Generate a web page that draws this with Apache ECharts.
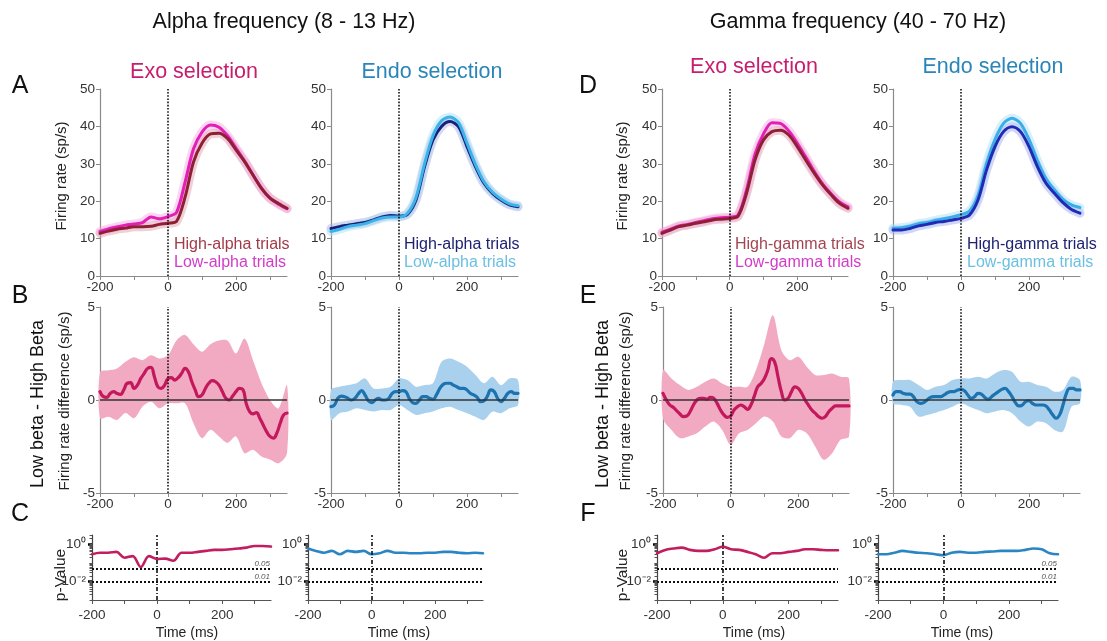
<!DOCTYPE html>
<html><head><meta charset="utf-8">
<script src="https://cdn.jsdelivr.net/npm/echarts@6/dist/echarts.min.js"></script>
<style>html,body{margin:0;padding:0;background:#fff}#c{width:1107px;height:641px}</style>
</head><body><div id="c"></div>
<script>
// ---------- DATA ----------
const T25 = [-200,-175,-150,-125,-100,-75,-50,-25,0,25,50,75,100,125,150,175,200,225,250,275,300,325,350];
const T10 = [-200,-190,-180,-170,-160,-150,-140,-130,-120,-110,-100,-90,-80,-70,-60,-50,-40,-30,-20,-10,0,10,20,30,40,50,60,70,80,90,100,110,120,130,140,150,160,170,180,190,200,210,220,230,240,250,260,270,280,290,300,310,320,330,340,350];
const xTicks = [-200,-100,0,100,200,300];
const xLabels = [-200,0,200];

// A: alpha, firing rate (sp/s)
const alphaExoHigh  = [11.4,12.0,12.5,12.8,13.2,13.2,13.3,13.8,14.1,14.6,21.0,30.5,35.5,38.0,38.2,36.8,33.7,30.6,27.0,23.4,20.8,19.4,18.1];
const alphaExoLow   = [11.9,12.6,13.1,13.6,13.9,14.3,15.8,15.3,15.9,17.0,25.0,34.0,38.5,40.4,39.8,37.5,34.2,30.8,27.0,23.5,20.8,19.2,18.0];
const alphaEndoHigh = [12.7,13.2,13.6,14.0,14.3,15.0,15.8,16.2,16.0,16.5,20.3,29.2,36.4,40.0,41.3,39.9,34.6,29.2,24.8,22.1,20.3,19.0,18.5];
const alphaEndoLow  = [11.9,12.5,13.2,13.6,14.0,14.8,15.5,15.8,15.8,16.8,21.0,30.0,37.5,41.5,42.5,41.0,35.5,29.8,25.2,22.4,20.6,19.3,18.8];
// D: gamma
const gammaExoHigh  = [11.4,12.3,13.2,13.6,14.1,14.5,15.0,15.2,15.4,16.0,22.1,31.0,36.4,38.6,39.0,37.7,34.6,31.0,27.5,24.3,21.7,19.4,18.1];
const gammaExoLow   = [11.7,12.5,13.4,13.8,14.3,14.8,15.3,15.6,15.7,16.3,23.0,32.5,38.0,41.0,40.8,38.8,35.5,31.8,28.0,24.6,22.0,19.8,18.5];
const gammaEndoHigh = [12.3,12.3,12.7,13.4,13.8,14.3,14.6,15.0,15.4,16.3,20.3,28.3,34.6,38.6,39.9,38.6,34.6,29.2,24.8,22.1,19.6,17.8,16.8];
const gammaEndoLow  = [12.8,12.9,13.3,14.0,14.3,14.9,15.3,15.8,16.4,17.3,21.5,30.0,36.5,40.8,42.2,40.8,36.5,30.8,26.0,23.0,20.5,19.0,18.3];

// B / E: firing rate difference (sp/s), mean on T10, band on T25
const diffAlphaExo  = [0.45,0.18,0.14,0.35,0.45,0.35,0.3,0.55,0.9,0.93,0.62,0.8,1.16,1.43,1.7,1.75,1.25,0.71,0.62,0.8,1.16,1.2,1.07,1.2,1.43,1.7,1.52,0.98,0.54,0.18,0.27,0.62,0.9,1.04,0.98,0.8,0.45,0.09,0,0.21,0.45,0.62,0.57,-0.18,-0.62,-0.75,-0.68,-0.98,-1.34,-1.7,-1.96,-2.05,-1.78,-1.25,-0.8,-0.7];
const diffAlphaExoUp = [1.5,1.6,1.7,2.05,2.3,2.14,2.4,2.23,2.4,3.2,3.5,3.0,2.6,3.0,3.2,3.2,2.5,3.3,2.14,0.9,0,-0.45,0.8];
const diffAlphaExoLo = [-0.98,-0.9,-1.07,-0.7,-0.98,-0.36,-0.1,-0.45,-0.18,-0.18,-0.18,-1.25,-2.05,-1.6,-1.96,-2.3,-1.96,-2.86,-2.68,-3.04,-3.2,-3.4,-2.86];
const diffAlphaEndo = [-0.36,-0.27,0.09,0.21,0.18,0.09,0,0.09,0.32,0.5,0.27,-0.04,-0.14,0,0.09,0,0,0.09,0.36,0.45,0.45,0.5,0.45,0.09,-0.14,-0.18,0,0.18,0.18,0.09,0.04,0.27,0.62,0.84,0.9,0.9,0.8,0.71,0.62,0.62,0.54,0.36,0.27,0.14,-0.09,-0.04,0.21,0.54,0.45,0.09,-0.09,0.09,0.36,0.45,0.36,0.36];
const diffAlphaEndoUp = [0.54,0.71,0.8,0.9,1.16,0.62,0.62,0.71,1.16,1.07,0.71,0.8,0.9,2.05,2.23,2.05,1.79,1.34,0.9,1.25,0.8,1.16,1.07];
const diffAlphaEndoLo = [-1.07,-0.71,-0.62,-0.45,-0.54,-0.62,-0.54,-0.54,-0.27,-0.54,-0.8,-0.71,-0.62,-0.45,-0.36,-0.54,-0.71,-0.9,-1.07,-0.62,-0.71,-0.45,-0.27];
const diffGammaExo  = [0.36,0,-0.27,-0.39,-0.57,-0.75,-0.89,-0.86,-0.63,-0.27,0,0.09,0.09,0.04,0.14,0.09,-0.18,-0.54,-0.8,-0.93,-0.86,-0.54,-0.36,-0.27,-0.36,-0.5,-0.27,0.21,0.71,0.89,1.16,1.61,2.23,2.05,1.25,0.45,0,0.09,0.45,0.71,0.62,0.36,0,-0.27,-0.54,-0.71,-0.89,-0.98,-0.89,-0.63,-0.45,-0.32,-0.32,-0.32,-0.32,-0.32];
const diffGammaExoUp = [1.61,1.16,0.8,0.54,0.71,0.98,1.16,0.89,0.71,0.71,0.71,1.61,3.04,4.55,2.68,2.14,2.32,1.79,1.34,1.34,1.43,1.25,1.16];
const diffGammaExoLo = [-0.98,-1.61,-2.05,-1.96,-1.79,-1.43,-1.16,-1.61,-2.41,-1.79,-1.61,-1.25,-0.89,-1.16,-1.96,-2.05,-1.61,-1.79,-2.5,-3.21,-2.86,-2.14,-1.96];
const diffGammaEndo = [0.27,0.45,0.45,0.36,0.32,0.32,0.18,-0.09,-0.18,-0.14,0,0.14,0.18,0.18,0.18,0.27,0.39,0.45,0.45,0.54,0.57,0.5,0.27,0.09,0.18,0.36,0.32,0.14,0.04,0.18,0.32,0.45,0.57,0.62,0.45,0.18,-0.14,-0.32,-0.27,-0.09,-0.04,-0.18,-0.27,-0.27,-0.27,-0.32,-0.54,-0.8,-0.98,-0.8,-0.27,0.36,0.62,0.62,0.54,0.54];
const diffGammaEndoUp = [0.98,1.07,1.07,0.8,0.54,0.71,0.8,1.07,1.16,1.16,1.25,1.16,1.43,1.61,1.52,0.98,0.98,0.8,0.71,0.45,0.54,1.25,1.07];
const diffGammaEndoLo = [-0.18,-0.27,-0.36,-0.89,-0.8,-0.68,-0.54,-0.36,-0.18,-0.36,-0.54,-0.71,-0.62,-0.54,-0.71,-1.16,-1.43,-1.16,-1.25,-1.61,-1.7,-0.36,-0.18];

// C / F: p-values on T25
const pAlphaExo  = [0.29,0.35,0.35,0.39,0.19,0.23,0.06,0.23,0.16,0.17,0.13,0.35,0.35,0.39,0.44,0.5,0.5,0.54,0.59,0.66,0.81,0.81,0.76];
const pAlphaEndo = [0.59,0.44,0.35,0.44,0.29,0.44,0.39,0.44,0.29,0.33,0.44,0.35,0.35,0.33,0.33,0.35,0.35,0.39,0.39,0.35,0.33,0.35,0.33];
const pGammaExo  = [0.33,0.5,0.59,0.66,0.5,0.44,0.44,0.54,0.74,0.54,0.5,0.39,0.29,0.19,0.33,0.33,0.39,0.44,0.54,0.54,0.5,0.48,0.48];
const pGammaEndo = [0.29,0.29,0.35,0.44,0.39,0.35,0.33,0.29,0.26,0.35,0.39,0.35,0.35,0.39,0.41,0.44,0.44,0.44,0.5,0.59,0.54,0.33,0.29];
const pThresholds = [0.05, 0.01];

// ---------- LAYOUT / STYLE ----------
const FONT = '"Liberation Sans", Arial, sans-serif';
const GRIDS = [
  {left:100, top:89, width:187, height:187},
  {left:331, top:89, width:187, height:187},
  {left:662, top:89, width:186, height:187},
  {left:893, top:89, width:187, height:187},
  {left:100, top:307, width:187, height:186},
  {left:331, top:307, width:187, height:186},
  {left:663, top:307, width:186, height:186},
  {left:893, top:307, width:187, height:186},
  {left:92, top:535, width:179, height:65},
  {left:308, top:535, width:175, height:65},
  {left:657, top:535, width:181, height:65},
  {left:878, top:535, width:180, height:65}
];
const AX = '#8a8a8a', LBL = '#333';

const xAxes = GRIDS.map((g, i) => ({
  gridIndex: i, type: 'value', min: -200, max: 350, position: 'bottom',
  axisLine: {onZero: false, lineStyle: {color: i >= 8 ? '#555' : AX, width: 1.2}},
  axisTick: {customValues: xTicks, length: 4, lineStyle: {color: i >= 8 ? '#555' : AX}},
  axisLabel: {customValues: xLabels, fontSize: 13.5, color: LBL, margin: i >= 8 ? 8 : 4, fontFamily: FONT},
  splitLine: {show: false}
}));

const minorLog = [];
[-3, -2, -1, 0].forEach(d => { for (let k = 1; k <= 9; k++) { const v = Math.log10(k) + d; if (v <= 0.5) minorLog.push(v); } });

const yAxes = GRIDS.map((g, i) => {
  const base = {gridIndex: i, type: 'value', position: 'left', splitLine: {show: false},
    axisLine: {show: true, onZero: false, lineStyle: {color: i >= 8 ? '#444' : AX, width: 1.2}},
    axisLabel: {fontSize: 13.5, color: LBL, margin: 5, fontFamily: FONT}};
  if (i < 4) return Object.assign(base, {min: 0, max: 50,
    axisTick: {customValues: [0,10,20,30,40,50], length: 4, lineStyle: {color: AX}},
    axisLabel: Object.assign(base.axisLabel, {customValues: [0,10,20,30,40,50]})});
  if (i < 8) return Object.assign(base, {min: -5, max: 5,
    axisTick: {customValues: [-5,0,5], length: 4, lineStyle: {color: AX}},
    axisLabel: Object.assign(base.axisLabel, {customValues: [-5,0,5]})});
  return Object.assign(base, {min: -3, max: 0.5,
    axisTick: {customValues: [-2, 0], length: 4, lineStyle: {color: '#000', width: 2.5}},
    axisLabel: Object.assign(base.axisLabel, {customValues: [-2, 0], margin: 6,
      formatter: v => v === 0 ? '10\u2070' : '10\u207B\u00B2'})});
});
[8, 9, 10, 11].forEach(gi => yAxes.push({gridIndex: gi, type: 'value', min: -3, max: 0.5, position: 'left', offset: 0,
  axisLine: {show: false, onZero: false}, splitLine: {show: false}, axisLabel: {show: false},
  axisTick: {show: true, customValues: minorLog, length: 2.5, lineStyle: {color: '#555', width: 1}}}));

function pairs(t, v) { return t.map((x, i) => [x, v[i]]); }
function line(gi, t, v, color, width, z, opacity, smooth) {
  return {type: 'line', xAxisIndex: gi, yAxisIndex: gi, data: pairs(t, v), symbol: 'none', showSymbol: false,
    smooth: smooth == null ? 0.3 : smooth, z: z, silent: true, animation: false,
    lineStyle: {color: color, width: width, opacity: opacity == null ? 1 : opacity, cap: 'round', join: 'round'}};
}
function band(gi, t, lo, hi, color) {
  return {type: 'custom', xAxisIndex: gi, yAxisIndex: gi, silent: true, z: 1, animation: false, data: [0],
    renderItem: function (params, api) {
      const pts = [];
      for (let i = 0; i < t.length; i++) pts.push(api.coord([t[i], hi[i]]));
      for (let i = t.length - 1; i >= 0; i--) pts.push(api.coord([t[i], lo[i]]));
      return {type: 'polygon', shape: {points: pts, smooth: 0.3}, style: {fill: color}};
    }};
}
function ml(data) { return {silent: true, symbol: ['none', 'none'], animation: false, label: {show: false}, data: data}; }
const vDot = {xAxis: 0, lineStyle: {type: 'dotted', color: '#111', width: 1.6}};
const vDashDot = {xAxis: 0, lineStyle: {type: [4, 2, 1, 2], color: '#111', width: 1.6}};
const zeroLine = {yAxis: 0, lineStyle: {type: 'solid', color: '#333', width: 1.5}};
function thr(withLabel) {
  return pThresholds.map(p => ({yAxis: Math.log10(p), lineStyle: {type: 'dotted', color: '#111', width: 2},
    label: {show: withLabel, position: 'insideEndTop', formatter: String(p), fontSize: 8, fontStyle: 'italic', color: '#555', distance: 1}}));
}

const series = [];
// Panel A / D
function panelRate(gi, hi, lo, c, topHigh) {
  series.push(line(gi, T25, hi, c.hiHalo, 9, 1, 0.45));
  series.push(line(gi, T25, lo, c.loHalo, 9, 1, 0.45));
  const sh = line(gi, T25, hi, c.hi, 3, topHigh ? 4 : 3);
  const sl = line(gi, T25, lo, c.lo, 3, topHigh ? 3 : 4);
  sh.markLine = ml([vDot]);
  series.push(sh, sl);
}
const exoC = {hi: '#8e1f34', hiHalo: '#d89aa4', lo: '#e41fb6', loHalo: '#f5a5e2'};
const endoC = {hi: '#1b1f7c', hiHalo: '#a8a8dc', lo: '#3ab3ea', loHalo: '#a4dbf4'};
const endoGC = {hi: '#2129b5', hiHalo: '#9aa4ea', lo: '#3aaee8', loHalo: '#a6dbf5'};
panelRate(0, alphaExoHigh, alphaExoLow, exoC, true);
panelRate(1, alphaEndoHigh, alphaEndoLow, endoC, false);
panelRate(2, gammaExoHigh, gammaExoLow, exoC, true);
panelRate(3, gammaEndoHigh, gammaEndoLow, endoGC, true);

// Panel B / E
function panelDiff(gi, mean, lo, hi, lineC, bandC) {
  series.push(band(gi, T25, lo, hi, bandC));
  const s = line(gi, T10, mean, lineC, 3.2, 3, 1, 0.45);
  s.markLine = ml([vDot, zeroLine]);
  series.push(s);
}
panelDiff(4, diffAlphaExo, diffAlphaExoLo, diffAlphaExoUp, '#c4185c', '#f2a9c2');
panelDiff(5, diffAlphaEndo, diffAlphaEndoLo, diffAlphaEndoUp, '#1c73b0', '#a9d1ee');
panelDiff(6, diffGammaExo, diffGammaExoLo, diffGammaExoUp, '#c4185c', '#f2a9c2');
panelDiff(7, diffGammaEndo, diffGammaEndoLo, diffGammaEndoUp, '#1c73b0', '#a9d1ee');

// Panel C / F
function panelP(gi, p, color, withLabel) {
  const s = line(gi, T25, p.map(v => Math.log10(v)), color, 2.6, 3, 1, 0.35);
  s.markLine = ml([vDashDot].concat(thr(withLabel)));
  series.push(s);
}
panelP(8, pAlphaExo, '#c21d5e', true);
panelP(9, pAlphaEndo, '#2a86c2', false);
panelP(10, pGammaExo, '#c21d5e', false);
panelP(11, pGammaEndo, '#2a86c2', true);

// ---------- TEXT ----------
function txt(x, y, text, size, color, align, rot, weight) {
  return {type: 'text', x: x, y: y, rotation: rot || 0, silent: true,
    style: {text: text, fontSize: size, fontFamily: FONT, fill: color, fontWeight: weight || 'normal',
      textAlign: align || 'center', textVerticalAlign: 'middle', align: align || 'center', verticalAlign: 'middle'}};
}
const R = Math.PI / 2;
const graphics = [
  txt(284, 22, 'Alpha frequency (8 - 13 Hz)', 21.5, '#111'),
  txt(858, 22, 'Gamma frequency (40 - 70 Hz)', 21.5, '#111'),
  txt(194, 72, 'Exo selection', 21.5, '#c71d6f'),
  txt(432, 72, 'Endo selection', 21.5, '#2a86b8'),
  txt(754, 67, 'Exo selection', 21.5, '#c71d6f'),
  txt(993, 67, 'Endo selection', 21.5, '#2a86b8'),
  txt(20, 86, 'A', 25, '#111'), txt(20, 296, 'B', 25, '#111'), txt(20, 514, 'C', 25, '#111'),
  txt(588, 86, 'D', 25, '#111'), txt(588, 296, 'E', 25, '#111'), txt(588, 514, 'F', 25, '#111'),
  txt(174, 245, 'High-alpha trials', 16, '#a33a47', 'left'),
  txt(174, 263, 'Low-alpha trials', 16, '#d23cc8', 'left'),
  txt(404, 245, 'High-alpha trials', 16, '#1e2270', 'left'),
  txt(404, 263, 'Low-alpha trials', 16, '#6cc0e2', 'left'),
  txt(735, 245, 'High-gamma trials', 16, '#a34452', 'left'),
  txt(735, 263, 'Low-gamma trials', 16, '#d23cc8', 'left'),
  txt(967, 245, 'High-gamma trials', 16, '#1e2270', 'left'),
  txt(967, 263, 'Low-gamma trials', 16, '#6cc0e2', 'left'),
  txt(62, 176, 'Firing rate (sp/s)', 15, '#222', 'center', R),
  txt(623, 176, 'Firing rate (sp/s)', 15, '#222', 'center', R),
  txt(38, 404, 'Low beta - High Beta', 18, '#111', 'center', R),
  txt(65, 401, 'Firing rate difference (sp/s)', 15, '#222', 'center', R),
  txt(603, 404, 'Low beta - High Beta', 18, '#111', 'center', R),
  txt(626, 401, 'Firing rate difference (sp/s)', 15, '#222', 'center', R),
  txt(61, 575, 'p-Value', 15.5, '#222', 'center', R),
  txt(623, 575, 'p-Value', 15.5, '#222', 'center', R),
  txt(187, 633, 'Time (ms)', 14, '#222'),
  txt(399, 633, 'Time (ms)', 14, '#222'),
  txt(754, 633, 'Time (ms)', 14, '#222'),
  txt(962, 633, 'Time (ms)', 14, '#222')
];

const chart = echarts.init(document.getElementById('c'), null, {renderer: 'canvas'});
chart.setOption({
  animation: false,
  backgroundColor: '#fff',
  textStyle: {fontFamily: FONT},
  grid: GRIDS,
  xAxis: xAxes,
  yAxis: yAxes,
  series: series,
  graphic: graphics
});
</script></body></html>
